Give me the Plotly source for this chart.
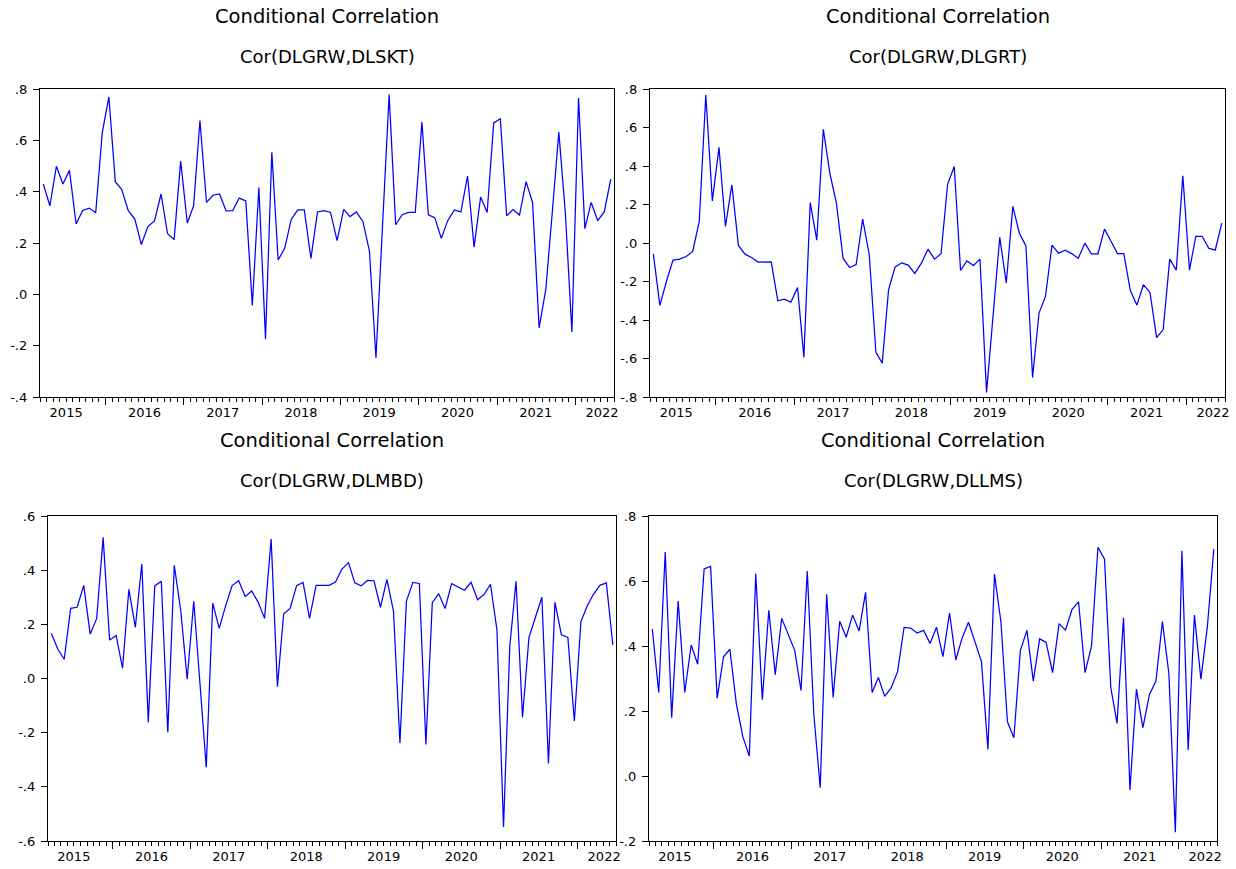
import pandas as pd
import plotly.graph_objects as go

# ---------------- data ----------------
start_month = "2015-03-01"
n_obs = 88

cor_dlskt = [0.43, 0.345, 0.499, 0.43, 0.483, 0.274, 0.327, 0.336, 0.318, 0.629,
             0.769, 0.439, 0.408, 0.326, 0.293, 0.194, 0.264, 0.286, 0.391, 0.236,
             0.213, 0.519, 0.278, 0.345, 0.677, 0.358, 0.386, 0.391, 0.325, 0.326,
             0.375, 0.364, -0.043, 0.416, -0.174, 0.553, 0.134, 0.179, 0.292, 0.329,
             0.329, 0.14, 0.321, 0.326, 0.319, 0.209, 0.331, 0.303, 0.321, 0.284,
             0.168, -0.248, 0.264, 0.778, 0.271, 0.310, 0.319, 0.319, 0.671, 0.310,
             0.299, 0.218, 0.288, 0.329, 0.321, 0.461, 0.184, 0.379, 0.319, 0.668,
             0.684, 0.306, 0.330, 0.309, 0.439, 0.358, -0.131, 0.018, 0.32, 0.632,
             0.317, -0.147, 0.765, 0.256, 0.358, 0.287, 0.321, 0.449]

cor_dlgrt = [-0.056, -0.324, -0.2, -0.089, -0.084, -0.07, -0.044, 0.112, 0.769, 0.219,
             0.497, 0.086, 0.302, -0.013, -0.058, -0.075, -0.099, -0.099, -0.098, -0.3,
             -0.292, -0.307, -0.231, -0.594, 0.21, 0.015, 0.591, 0.362, 0.207, -0.079,
             -0.127, -0.112, 0.124, -0.061, -0.568, -0.624, -0.243, -0.124, -0.103, -0.115,
             -0.158, -0.105, -0.032, -0.084, -0.056, 0.305, 0.397, -0.143, -0.093, -0.117,
             -0.084, -0.776, -0.37, 0.029, -0.208, 0.19, 0.051, -0.015, -0.698, -0.364,
             -0.278, -0.011, -0.053, -0.037, -0.055, -0.079, -0.001, -0.056, -0.056, 0.072,
             0.008, -0.055, -0.055, -0.247, -0.323, -0.217, -0.257, -0.492, -0.45, -0.084,
             -0.141, 0.349, -0.141, 0.035, 0.035, -0.027, -0.037, 0.103]

cor_dlmbd = [0.167, 0.109, 0.071, 0.259, 0.263, 0.344, 0.164, 0.221, 0.521, 0.142,
             0.159, 0.038, 0.329, 0.189, 0.423, -0.161, 0.342, 0.359, -0.198, 0.418,
             0.252, -0.003, 0.285, -0.02, -0.328, 0.278, 0.185, 0.269, 0.343, 0.361,
             0.303, 0.323, 0.282, 0.222, 0.515, -0.03, 0.238, 0.259, 0.343, 0.355,
             0.222, 0.344, 0.344, 0.344, 0.356, 0.404, 0.428, 0.353, 0.342, 0.362,
             0.361, 0.263, 0.366, 0.249, -0.238, 0.286, 0.355, 0.351, -0.244, 0.28,
             0.313, 0.258, 0.35, 0.338, 0.326, 0.355, 0.291, 0.31, 0.348, 0.179,
             -0.548, 0.118, 0.359, -0.143, 0.152, 0.226, 0.3, -0.314, 0.281, 0.161,
             0.152, -0.157, 0.21, 0.268, 0.311, 0.344, 0.353, 0.124]

cor_dllms = [0.452, 0.257, 0.689, 0.179, 0.538, 0.257, 0.403, 0.344, 0.637, 0.645,
             0.239, 0.367, 0.39, 0.222, 0.121, 0.061, 0.622, 0.235, 0.51, 0.312,
             0.485, 0.435, 0.386, 0.263, 0.631, 0.193, -0.036, 0.559, 0.242, 0.476,
             0.427, 0.495, 0.446, 0.565, 0.257, 0.303, 0.245, 0.271, 0.321, 0.457,
             0.455, 0.44, 0.448, 0.408, 0.458, 0.367, 0.501, 0.357, 0.424, 0.473,
             0.413, 0.352, 0.082, 0.621, 0.473, 0.167, 0.118, 0.386, 0.448, 0.292,
             0.422, 0.411, 0.318, 0.469, 0.449, 0.513, 0.536, 0.318, 0.399, 0.704,
             0.667, 0.273, 0.162, 0.487, -0.043, 0.267, 0.149, 0.251, 0.292, 0.475,
             0.316, -0.173, 0.693, 0.08, 0.495, 0.298, 0.459, 0.698]

panel_titles = ["Cor(DLGRW,DLSKT)", "Cor(DLGRW,DLGRT)", "Cor(DLGRW,DLMBD)", "Cor(DLGRW,DLLMS)"]
main_title = "Conditional Correlation"
year_labels = ["2015", "2016", "2017", "2018", "2019", "2020", "2021", "2022"]

ytick_vals = [
    [-0.4, -0.2, 0.0, 0.2, 0.4, 0.6, 0.8],
    [-0.8, -0.6, -0.4, -0.2, 0.0, 0.2, 0.4, 0.6, 0.8],
    [-0.6, -0.4, -0.2, 0.0, 0.2, 0.4, 0.6],
    [-0.2, 0.0, 0.2, 0.4, 0.6, 0.8],
]
ytick_text = [
    ["-.4", "-.2", ".0", ".2", ".4", ".6", ".8"],
    ["-.8", "-.6", "-.4", "-.2", ".0", ".2", ".4", ".6", ".8"],
    ["-.6", "-.4", "-.2", ".0", ".2", ".4", ".6"],
    ["-.2", ".0", ".2", ".4", ".6", ".8"],
]
y_ranges = [[-0.4, 0.8], [-0.8, 0.8], [-0.6, 0.6], [-0.2, 0.8]]
series = [cor_dlskt, cor_dlgrt, cor_dlmbd, cor_dllms]

# ---------------- layout geometry (pixels) ----------------
W, H = 1236, 869
boxes = [  # x0, x1, ytop, ybottom
    (40, 614, 89, 397),
    (650, 1225, 89, 397),
    (48, 616, 516, 841),
    (649, 1217, 516, 841),
]
title_y = [(16, 56.5), (16, 56.5), (440, 480.5), (440, 480.5)]

month_starts = pd.date_range(start_month, periods=n_obs, freq="MS")
dates = month_starts + pd.to_timedelta(month_starts.days_in_month / 2.0, unit="D")
x_range = [pd.Timestamp(start_month), month_starts[-1] + pd.offsets.MonthBegin(1)]

year_bounds = [pd.Timestamp(f"{y}-01-01") for y in range(2016, 2023)]
label_pos = [pd.Timestamp(f"{y}-07-01") for y in year_labels[:-1]] + [pd.Timestamp("2022-05-06")]

FONT = "DejaVu Sans"
fig = go.Figure()
layout = dict(
    template="none",
    width=W, height=H, autosize=False, margin=dict(l=0, r=0, t=0, b=0, pad=0),
    paper_bgcolor="white", plot_bgcolor="white", showlegend=False,
    font=dict(family=FONT, color="black", size=13),
)
annotations = []

for i in range(4):
    k = i + 1
    kl = i + 5
    x0, x1, yt, yb = boxes[i]
    xname = "x" if k == 1 else f"x{k}"
    yname = "y" if k == 1 else f"y{k}"
    fig.add_trace(go.Scatter(x=dates, y=series[i], mode="lines",
                             line=dict(color="#0000FF", width=1.25),
                             xaxis=xname, yaxis=yname, hoverinfo="x+y"))
    fig.add_trace(go.Scatter(x=[dates[0]], y=[None], mode="lines",
                             xaxis=f"x{kl}", yaxis=yname, showlegend=False, hoverinfo="skip"))
    dom_x = [x0 / W, x1 / W]
    dom_y = [1 - yb / H, 1 - yt / H]
    layout["xaxis" if k == 1 else f"xaxis{k}"] = dict(
        type="date", domain=dom_x, anchor=yname, range=x_range, automargin=False,
        tickmode="array", tickvals=year_bounds, showticklabels=False,
        ticks="outside", ticklen=7, tickwidth=1, tickcolor="black",
        minor=dict(dtick="M1", tick0="2015-01-01", ticks="outside", ticklen=4,
                   tickwidth=1, tickcolor="black", showgrid=False),
        showline=True, linecolor="black", linewidth=1.3, mirror=True,
        showgrid=False, zeroline=False, fixedrange=True,
    )
    layout[f"xaxis{kl}"] = dict(
        type="date", overlaying=xname, anchor=yname, range=x_range, automargin=False,
        tickmode="array", tickvals=label_pos, ticktext=year_labels,
        ticks="", showline=False, showgrid=False, zeroline=False,
        ticklabelstandoff=6, side="bottom",
        tickfont=dict(family=FONT, size=13, color="black"), fixedrange=True,
    )
    layout["yaxis" if k == 1 else f"yaxis{k}"] = dict(
        domain=dom_y, anchor=xname, range=y_ranges[i], automargin=False,
        tickmode="array", tickvals=ytick_vals[i], ticktext=ytick_text[i],
        ticks="outside", ticklen=6, tickwidth=1, tickcolor="black",
        showline=True, linecolor="black", linewidth=1.3, mirror=True,
        showgrid=False, zeroline=False, ticklabelstandoff=3,
        tickfont=dict(family=FONT, size=13, color="black"), fixedrange=True,
    )
    cx = (x0 + x1) / 2 / W
    annotations.append(dict(text=main_title, x=cx, y=1 - title_y[i][0] / H,
                            xref="paper", yref="paper", xanchor="center", yanchor="middle",
                            showarrow=False, font=dict(family=FONT, size=19.5, color="black")))
    annotations.append(dict(text=panel_titles[i], x=cx, y=1 - title_y[i][1] / H,
                            xref="paper", yref="paper", xanchor="center", yanchor="middle",
                            showarrow=False, font=dict(family=FONT, size=18, color="black")))

layout["annotations"] = annotations
fig.update_layout(**layout)
fig.write_html(
    "out.html",
    config={"responsive": False, "displayModeBar": False},
    post_script="document.body.style.margin='0';document.body.style.overflow='hidden';",
)
